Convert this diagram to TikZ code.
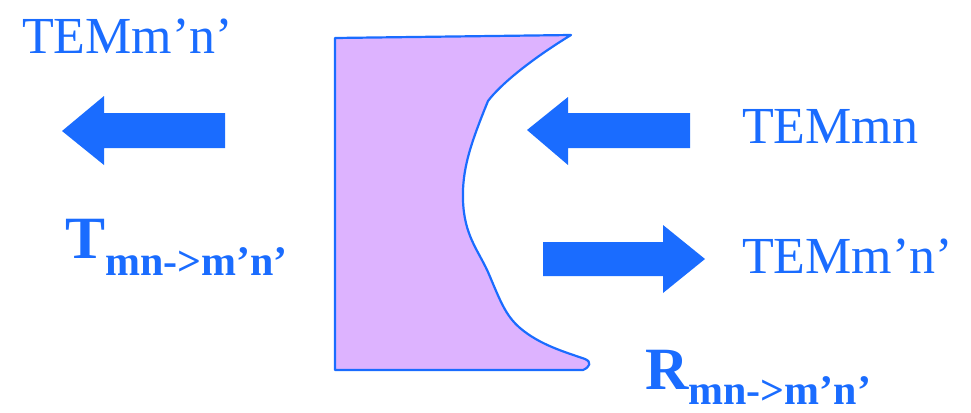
\documentclass[tikz,border=0pt]{standalone}
\usepackage{fontspec}
\setmainfont{Liberation Serif}
\definecolor{wblue}{RGB}{26,108,255}
\definecolor{wlilac}{RGB}{221,179,255}

\begin{document}
\begin{tikzpicture}[x=1pt, y=-1pt,
    mode/.style={anchor=base west, inner sep=0pt, text=wblue, font=\fontsize{52}{60}\selectfont},
    coef/.style={anchor=base west, inner sep=0pt, text=wblue, font=\bfseries},
    fatarrow/.style={fill=wblue},
    body/.style={draw=wblue, line width=2.2pt, fill=wlilac, line join=round}]

    \useasboundingbox (0,0) rectangle (971,412);

    % === discontinuity (scatterer) ===
    \path[body] (335,38) -- (571,35)
        .. controls (530,60) and (500,85) .. (488,101)
        .. controls (470,145) and (462,170) .. (463,200)
        .. controls (464,235) and (478,250) .. (488,272)
        .. controls (500,300) and (505,315) .. (520,328)
        .. controls (540,345) and (565,352) .. (585,359)
        .. controls (592,362) and (590,367) .. (583,370)
        -- (335,370) -- cycle;

    % === block arrows ===
    % transmitted (left)
    \fill[fatarrow] (225,113) -- (104,113) -- (104,96) -- (62,131)
        -- (104,165) -- (104,148) -- (225,148) -- cycle;
    % incident
    \fill[fatarrow] (690,113) -- (568,113) -- (568,97) -- (527,130)
        -- (568,165) -- (568,148) -- (690,148) -- cycle;
    % reflected (right)
    \fill[fatarrow] (543,242) -- (663,242) -- (663,225) -- (705,259)
        -- (663,293) -- (663,276) -- (543,276) -- cycle;

    % === mode labels ===
    \node[mode] (trans) at (22,53)   {TEMm’n’};
    \node[mode] (inc)   at (742,143) {TEMmn};
    \node[mode] (refl)  at (742,273) {TEMm’n’};

    % === coefficients ===
    \node[coef] (T) at (65,258)
        {\fontsize{60}{60}\selectfont T\raisebox{-17pt}{\fontsize{42}{42}\selectfont mn->m’n’}};
    \node[coef] (R) at (645,389)
        {\fontsize{60}{60}\selectfont R\raisebox{-15pt}{\fontsize{42}{42}\selectfont mn->m’n’}};

\end{tikzpicture}
\end{document}
